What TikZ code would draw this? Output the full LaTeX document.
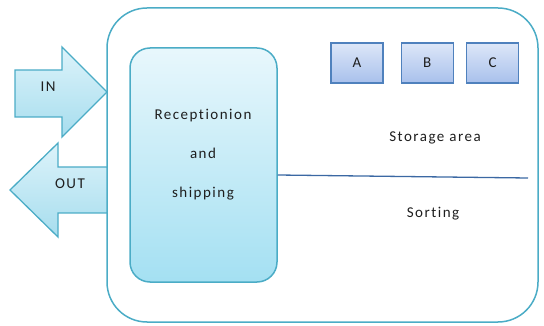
\documentclass[tikz,border=0pt]{standalone}
\usepackage{fontspec}
\setmainfont{Carlito}
\newfontfamily\labelfont[LetterSpace=10,Ligatures=NoCommon]{Carlito}
\usetikzlibrary{positioning}

\definecolor{rimblue}{HTML}{4BACC6}
\definecolor{zonetop}{HTML}{E8F7FC}
\definecolor{zonebottom}{HTML}{A4E0F2}
\definecolor{flowtop}{HTML}{DDF3FA}
\definecolor{flowbottom}{HTML}{A6DDEE}
\definecolor{binedge}{HTML}{4F81BD}
\definecolor{bintop}{HTML}{DDE7F8}
\definecolor{binbottom}{HTML}{A8C0EC}
\definecolor{splitline}{HTML}{3B68A3}
\definecolor{inktext}{HTML}{1E1E1E}

\begin{document}
\begin{tikzpicture}[x=1pt,y=-1pt,
  font=\labelfont\fontsize{15}{17}\selectfont, text=inktext,
  site/.style={draw=rimblue,line width=1.5pt,rounded corners=40pt,
    minimum width=431pt,minimum height=314pt},
  zone/.style={draw=rimblue,line width=1.5pt,rounded corners=20pt,
    top color=zonetop,bottom color=zonebottom,
    minimum width=147pt,minimum height=234pt},
  flow/.style={draw=rimblue,line width=1.3pt,
    top color=flowtop,bottom color=flowbottom},
  bin/.style={draw=binedge,line width=1.3pt,
    top color=bintop,bottom color=binbottom,
    minimum width=52pt,minimum height=40pt},
  divider/.style={draw=splitline,line width=1.3pt}]

\useasboundingbox (0,0) rectangle (544,326);

% warehouse outline
\node[site] (site) at (322.5,165) {};

% goods in / goods out
\path[flow] (15,70) -- (62,70) -- (62,47) -- (107,92) -- (62,137)
  -- (62,117) -- (15,117) -- cycle;
\path[flow] (107,167) -- (58,167) -- (58,143) -- (10,190) -- (58,237)
  -- (58,213) -- (107,213) -- cycle;
\node (in)  at (48,87)  {IN};
\node (out) at (70,184) {OUT};

% reception area
\node[zone] (recep) at (203.5,165) {};
\node[align=center,font=\labelfont\fontsize{15}{39}\selectfont]
  (recepLabel) at (203,155) {Receptionion\\and\\shipping};

% storage bins
\node[bin] (binA) at (357,63) {A};
\node[bin] (binB) [right=17pt of binA] {B};
\node[bin] (binC) [right=12pt of binB] {C};

\node (storage) at (435,138) {Storage area};
\node (sorting) at (433,214) {Sorting};

% split between storage and sorting
\coordinate (splitEnd) at (528,178);
\draw[divider] ([yshift=-10pt]recep.east) -- (splitEnd);
\end{tikzpicture}
\end{document}
